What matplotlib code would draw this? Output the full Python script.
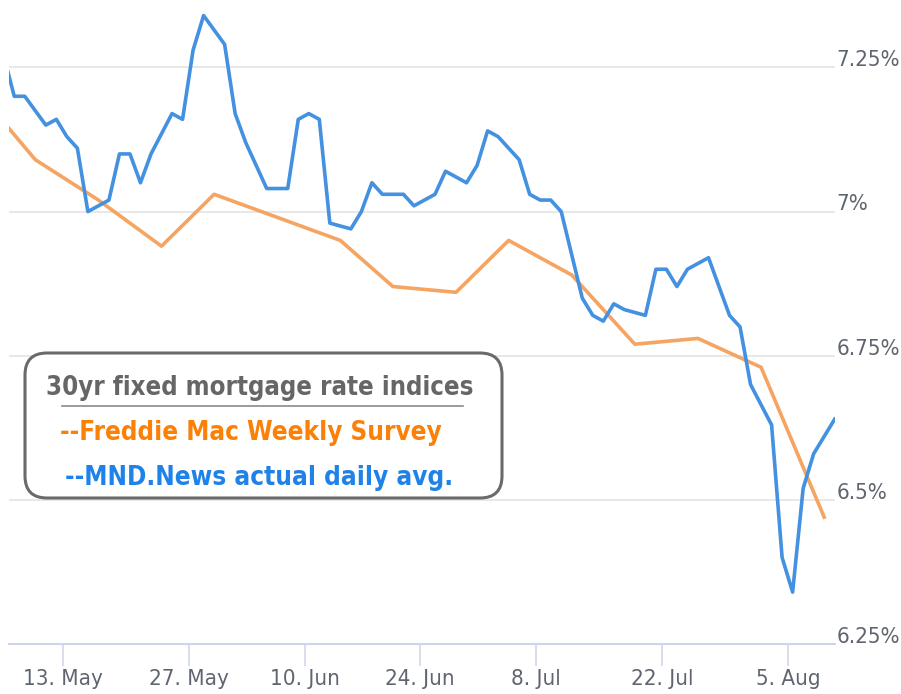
import os
import matplotlib
matplotlib.use("Agg")
import matplotlib.pyplot as plt
from matplotlib import font_manager
from matplotlib.font_manager import FontProperties
from matplotlib.patches import FancyBboxPatch
from matplotlib.transforms import blended_transform_factory
import pandas as pd

# narrow font if one is installed, else Liberation Sans sized to the same widths
files = {os.path.basename(f.fname): f.fname for f in font_manager.fontManager.ttflist}
def pick(cands, family, weight):
    for c in cands:
        if c in files:
            return FontProperties(fname=files[c])
    return FontProperties(family=family, weight=weight)
FP = pick(["LiberationSansNarrow-Regular.ttf", "DejaVuSansCondensed.ttf",
           "RobotoCondensed-Regular.ttf"], "Liberation Sans", "normal")
FPB = pick(["LiberationSansNarrow-Bold.ttf", "DejaVuSansCondensed-Bold.ttf",
            "RobotoCondensed-Bold.ttf"], "Liberation Sans", "bold")

BLUE = "#4391e0"; ORANGE = "#f5a462"; GRID = "#e6e6e6"; AXIS = "#ccd6eb"
LABEL = "#5f6570"; BOX = "#6a6a6a"

holidays = ["2024-05-27", "2024-06-19", "2024-07-04"]

# MND daily index (business days 7 May .. 9 Aug 2024)
mnd_rates = [
    7.27, 7.20, 7.20, 7.15,
    7.16, 7.13, 7.11, 7.00, 7.02,
    7.10, 7.10, 7.05, 7.10, 7.17,
    7.16, 7.28, 7.34, 7.29,
    7.17, 7.12, 7.08, 7.04, 7.04,
    7.16, 7.17, 7.16, 6.98, 6.97,
    7.00, 7.05, 7.03, 7.03,
    7.01, 7.02, 7.03, 7.07, 7.05,
    7.08, 7.14, 7.13, 7.09,
    7.03, 7.02, 7.02, 7.00, 6.85,
    6.82, 6.81, 6.84, 6.83, 6.82,
    6.90, 6.90, 6.87, 6.90, 6.92,
    6.87, 6.82, 6.80, 6.70, 6.63,
    6.40, 6.34, 6.52, 6.58, 6.64,
]
mnd_dates = pd.bdate_range("2024-05-07", "2024-08-09", freq="C", holidays=holidays)

# Freddie Mac weekly survey
fm_dates = pd.to_datetime([
    "2024-05-02", "2024-05-09", "2024-05-16", "2024-05-23", "2024-05-30",
    "2024-06-06", "2024-06-13", "2024-06-20", "2024-06-27", "2024-07-03",
    "2024-07-11", "2024-07-18", "2024-07-25", "2024-08-01", "2024-08-08",
])
fm_rates = [7.22, 7.09, 7.02, 6.94, 7.03, 6.99, 6.95, 6.87, 6.86, 6.95,
            6.89, 6.77, 6.78, 6.73, 6.47]

tick_dates = pd.to_datetime(["2024-05-13", "2024-05-27", "2024-06-10", "2024-06-24",
                             "2024-07-08", "2024-07-22", "2024-08-05"])
y_ticks = [6.25, 6.5, 6.75, 7.0, 7.25]
y_labels = ["6.25%", "6.5%", "6.75%", "7%", "7.25%"]

# ordinal axis: one slot per trading day, plus a slot for each survey release
slot_days = []
mnd_pos, fm_pos = {}, {}
for d in pd.bdate_range("2024-05-02", "2024-08-09", freq="C", holidays=holidays):
    mnd_pos[d] = len(slot_days); slot_days.append(d)
    if d in fm_dates:
        fm_pos[d] = len(slot_days); slot_days.append(d)

mnd_x = [mnd_pos[d] for d in mnd_dates]
fm_x = [fm_pos[d] for d in fm_dates]
tick_x = [next(i for i, d in enumerate(slot_days) if d >= t) + 0.6 for t in tick_dates]

fig = plt.figure(figsize=(9.01, 6.94), dpi=100)
ax = fig.add_axes([9 / 901, 1 - 644 / 694, (834.7 - 9) / 901, 644 / 694])
ax.set_xlim(4.5, len(slot_days) - 1)
ax.set_ylim(6.25, 7.367)

for v in y_ticks[1:]:
    ax.axhline(v, color=GRID, lw=1.3, zorder=1)
ax.plot(fm_x, fm_rates, color=ORANGE, lw=2.6, zorder=3)
ax.plot(mnd_x, mnd_rates, color=BLUE, lw=2.6, zorder=4)

for s in ["top", "left", "right"]:
    ax.spines[s].set_visible(False)
ax.spines["bottom"].set_color(AXIS); ax.spines["bottom"].set_linewidth(1.5)
ax.set_yticks([])
ax.set_xticks(tick_x)
ax.set_xticklabels([f"{t.day}. {t.strftime('%b')}" for t in tick_dates])
ax.tick_params(axis="x", length=16, width=1.1, color=AXIS, pad=2, labelcolor=LABEL)
for lbl in ax.get_xticklabels():
    lbl.set_fontproperties(FP); lbl.set_fontsize(19.5)

tr = blended_transform_factory(ax.transAxes, ax.transData)
ylabs = [ax.text(1.002, v + 0.002, lab, transform=tr, ha="left", va="baseline",
                 fontproperties=FP, fontsize=19.5, color=LABEL, clip_on=False)
         for v, lab in zip(y_ticks, y_labels)]

# legend box
inch = fig.dpi_scale_trans
fig.patches.append(FancyBboxPatch((0.25, 1.96), 4.77, 1.45, transform=inch,
                                  boxstyle="round,pad=0,rounding_size=0.22",
                                  fc="white", ec=BOX, lw=2.2, zorder=10))
title = fig.text(2.60, 2.99, "30yr fixed mortgage rate indices", transform=inch,
                 ha="center", va="baseline", fontproperties=FPB, fontsize=22,
                 color="#666666", zorder=11)
fig.add_artist(plt.Line2D([0.62, 4.63], [2.88, 2.88], transform=inch, color="#8a8a8a",
                          lw=1.2, zorder=11))
fm_txt = fig.text(0.60, 2.54, "--Freddie Mac Weekly Survey", transform=inch, ha="left",
                  va="baseline", fontproperties=FPB, fontsize=20, color="#fb8008", zorder=11)
mnd_txt = fig.text(0.65, 2.09, "--MND.News actual daily avg.", transform=inch, ha="left",
                   va="baseline", fontproperties=FPB, fontsize=20, color="#1f82e8", zorder=11)

# size texts to the widths (px) they take in the original
fig.canvas.draw()
r = fig.canvas.get_renderer()
def fit(t, w):
    return t.get_fontsize() * w / t.get_window_extent(r).width
xl = ax.get_xticklabels()[0]
s_tick = min(fit(xl, 84), fit(ylabs[4], 64), 19.5)
for lbl in ax.get_xticklabels():
    lbl.set_fontsize(s_tick)
for t in ylabs:
    t.set_fontsize(s_tick)
for t, w in [(title, 426), (fm_txt, 382), (mnd_txt, 387)]:
    t.set_fontsize(min(fit(t, w), 23))

fig.savefig("out.png", dpi=100)
